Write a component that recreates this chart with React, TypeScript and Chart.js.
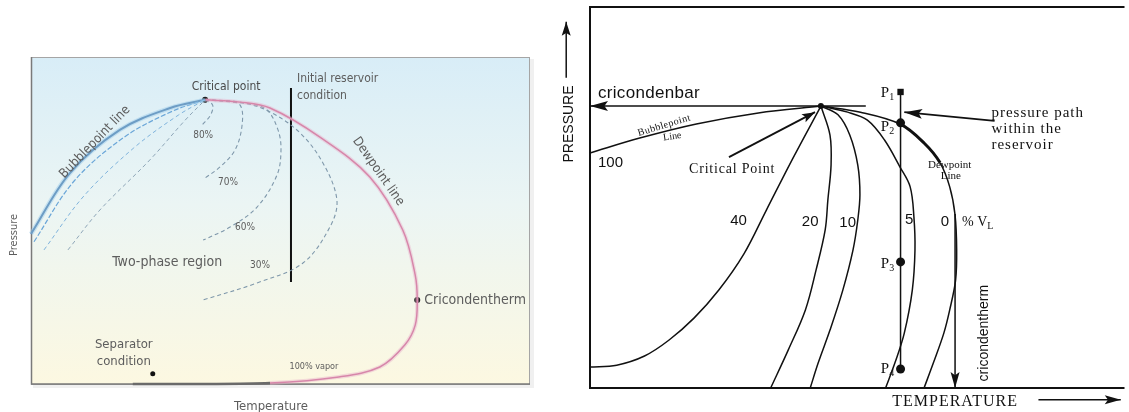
import React, { useEffect, useRef } from "react";
import { Chart, registerables } from "chart.js";
Chart.register(...registerables);

// ---------- LEFT DIAGRAM DATA (arbitrary temperature / pressure units, 0-100) ----------
const leftBubblepoint = [[0, 45.9], [7.8, 64.5], [17.8, 77.7], [27.9, 84.4], [34.9, 86.9]];
const leftBubbleDashA = [[0.6, 43.5], [8.6, 62.0], [18.6, 75.4], [28.3, 83.4], [34.9, 86.9]];
const leftBubbleDashB = [[2.6, 41.0], [10.6, 57.5], [20.6, 72.2], [29.6, 82.3], [34.9, 86.9]];
const leftBubbleDashC = [[7.4, 41.0], [13.8, 53.2], [23.8, 68.5], [30.9, 80.7], [34.9, 86.9]];
const leftDewpoint = [[34.9, 86.9], [41.9, 86.2], [47.9, 84.4], [57.9, 75.5], [67.9, 63.3], [74.5, 47.1], [77.0, 33.3], [77.4, 25.7], [77.0, 18.0], [74.9, 11.9], [69.9, 5.2], [61.3, 2.1], [47.9, 0.3], [33.9, 0], [20.4, 0]];
const leftQuality80 = [[34.9, 86.9], [36.4, 85.3], [36.0, 82.3], [34.3, 79.2]];
const leftQuality70 = [[34.9, 86.9], [39.0, 86.5], [41.9, 85.3], [42.3, 79.2], [40.9, 71.6], [37.9, 66.4], [34.9, 63.0]];
const leftQuality60 = [[34.9, 86.9], [43.9, 85.6], [47.3, 83.8], [49.5, 77.7], [50.1, 71.6], [49.3, 63.9], [45.3, 54.1], [39.9, 48.0], [34.5, 44.0]];
const leftQuality30 = [[34.9, 86.9], [41.9, 86.2], [47.9, 83.2], [53.9, 76.8], [58.5, 67.6], [61.3, 56.3], [59.9, 48.0], [54.5, 37.0], [45.3, 30.9], [34.5, 25.7]];
const leftReservoirPath = [[52.1, 90.5], [52.1, 31.2]];
const leftCriticalPoint = [[34.9, 86.9]];
const leftCricondentherm = [[77.4, 25.7]];
const leftSeparator = [[24.4, 3.1]];
const leftQualityLabels = ["80%", "70%", "60%", "30%"];

// ---------- RIGHT DIAGRAM DATA ----------
const rightBubblepoint = [[0, 61.7], [9.3, 65.6], [19.9, 69.3], [31.5, 72.2], [43.2, 74.0]];
const rightCricondenbar = [[51.6, 74.0], [0, 74.0]];
const rightVL40 = [[0, 5.5], [5.0, 6.0], [10.2, 8.4], [14.8, 12.6], [19.5, 18.4], [24.1, 25.7], [28.8, 35.2], [33.0, 46.7], [38.0, 60.4], [43.2, 74.0]];
const rightVL20 = [[43.2, 74.0], [44.9, 66.4], [45.1, 58.5], [44.5, 49.3], [44.0, 41.5], [42.3, 31.0], [40.3, 20.5], [37.1, 10.0], [33.8, 0]];
const rightVL10 = [[43.2, 74.0], [46.4, 71.7], [48.6, 66.4], [50.1, 58.5], [50.5, 50.7], [50.1, 44.1], [49.2, 36.2], [47.3, 25.7], [44.9, 15.2], [42.7, 6.6], [41.2, 0]];
const rightVL5 = [[43.2, 74.0], [48.2, 72.4], [51.9, 70.3], [55.1, 65.1], [58.0, 58.0], [59.9, 52.8], [60.6, 44.9], [60.8, 36.2], [60.3, 25.7], [58.8, 14.4], [57.1, 6.8], [55.3, 0]];
const rightVL0 = [[43.2, 74.0], [50.6, 72.4], [58.0, 69.3], [62.5, 64.3], [65.5, 59.1], [67.3, 52.8], [68.3, 45.4], [68.6, 36.2], [68.4, 28.3], [67.3, 20.5], [66.2, 14.4], [64.3, 6.8], [62.5, 0]];
const rightPressurePath = [[58.1, 77.7], [58.1, 5.0]];
const rightP1 = [[58.1, 77.7]];
const rightP2toP4 = [[58.1, 69.6], [58.1, 33.1], [58.1, 5.0]];
const rightCriticalPoint = [[43.2, 74.0]];
const rightCriticalArrow = [[26.0, 60.6], [42.1, 72.4]];
const rightPathArrow = [[75.7, 70.1], [58.8, 72.4]];
const rightCricondenthermArrow = [[68.3, 45.7], [68.3, 0]];
const rightPressureAxisArrow = [[-4.45, 81.4], [-4.45, 96.1]];
const rightTemperatureAxisArrow = [[83.9, -3.1], [99.3, -3.1]];
const rightVLLabels = ["40", "20", "10", "5", "0"];
const rightPointLabels = ["1", "2", "3", "4"];

// ---------- helpers ----------
const SANS = '"Liberation Sans", Arial, sans-serif';
const SERIF = '"Liberation Serif", "Times New Roman", serif';
const NARROW = '"Liberation Sans Narrow", "DejaVu Sans Condensed", "Liberation Sans", sans-serif';

const toXY = (a: number[][]) => a.map(([x, y]) => ({ x, y }));

function lineDs(data: number[][], color: string, width: number, dash: number[] = [], extra: any = {}) {
  return {
    data: toXY(data),
    showLine: true,
    borderColor: color,
    backgroundColor: color,
    borderWidth: width,
    borderDash: dash,
    pointRadius: 0,
    pointHoverRadius: 0,
    tension: 0.35,
    fill: false,
    clip: false,
    ...extra,
  };
}

function dotDs(data: number[][], color: string, r: number, style: string = "circle") {
  return {
    data: toXY(data),
    showLine: false,
    pointRadius: r,
    pointHoverRadius: r,
    pointStyle: style,
    pointBackgroundColor: color,
    pointBorderColor: color,
    borderWidth: 0,
    clip: false,
  };
}

type Lbl = { t: string; x: number; y: number; f: string; c?: string; a?: CanvasTextAlign; r?: number; ls?: number };

function drawText(ctx: CanvasRenderingContext2D, s: string, x: number, y: number, font: string, color: string, align: CanvasTextAlign = "center", rot = 0, ls = 0) {
  ctx.save();
  ctx.translate(x, y);
  if (rot) ctx.rotate((rot * Math.PI) / 180);
  ctx.font = font;
  (ctx as any).letterSpacing = ls + "px";
  ctx.fillStyle = color;
  ctx.textAlign = align;
  ctx.textBaseline = "middle";
  ctx.fillText(s, 0, 0);
  ctx.restore();
}

function px(chart: any, x: number, y: number) {
  return [chart.scales.x.getPixelForValue(x), chart.scales.y.getPixelForValue(y)];
}

function drawLabels(chart: any, labels: Lbl[], defColor: string) {
  const ctx = chart.ctx as CanvasRenderingContext2D;
  labels.forEach((l) => {
    const [x, y] = px(chart, l.x, l.y);
    drawText(ctx, l.t, x, y, l.f, l.c || defColor, l.a || "center", l.r || 0, l.ls || 0);
  });
}

const arrowPlugin = {
  id: "arrowHeads",
  afterDatasetsDraw(chart: any) {
    const ctx = chart.ctx as CanvasRenderingContext2D;
    chart.data.datasets.forEach((ds: any, i: number) => {
      if (!ds.arrowHead) return;
      const pts = chart.getDatasetMeta(i).data;
      const n = pts.length;
      if (n < 2) return;
      const a = pts[n - 2], b = pts[n - 1];
      const ang = Math.atan2(b.y - a.y, b.x - a.x);
      const { len, half } = ds.arrowHead;
      ctx.save();
      ctx.translate(b.x, b.y);
      ctx.rotate(ang);
      ctx.beginPath();
      ctx.moveTo(0, 0);
      ctx.lineTo(-len, -half);
      ctx.lineTo(-len * 0.8, 0);
      ctx.lineTo(-len, half);
      ctx.closePath();
      ctx.fillStyle = ds.borderColor;
      ctx.fill();
      ctx.restore();
    });
  },
};

const isBottom = (c: any) => c.p0.parsed.y < 0.5 && c.p1.parsed.y < 0.5;

// ---------- LEFT CHART ----------
function leftConfig(): any {
  const labelColor = "#5d5d5d";
  const f = (s: number) => `${s}px ${NARROW}`;
  const labels: Lbl[] = [
    { t: "Critical point", x: 39.1, y: 91.0, f: f(12), c: "#4a4a4a" },
    { t: "Initial reservoir", x: 53.3, y: 93.2, f: f(12), a: "left" },
    { t: "condition", x: 53.3, y: 88.0, f: f(12), a: "left" },
    { t: "Bubblepoint line", x: 12.8, y: 74.0, f: f(13), r: -46 },
    { t: "Dewpoint line", x: 69.6, y: 65.0, f: f(13), r: 55 },
    { t: leftQualityLabels[0], x: 34.5, y: 76.1, f: f(10) },
    { t: leftQualityLabels[1], x: 39.5, y: 61.8, f: f(10) },
    { t: leftQualityLabels[2], x: 42.9, y: 48.0, f: f(10) },
    { t: leftQualityLabels[3], x: 45.9, y: 36.4, f: f(10) },
    { t: "Two-phase region", x: 27.3, y: 37.3, f: f(14) },
    { t: "Separator", x: 18.6, y: 11.9, f: f(13) },
    { t: "condition", x: 18.6, y: 6.7, f: f(13) },
    { t: "100% vapor", x: 56.7, y: 5.2, f: f(9) },
    { t: "Cricondentherm", x: 78.8, y: 25.7, f: f(14), a: "left" },
    { t: "Pressure", x: -3.3, y: 45.6, f: f(11), r: -90 },
    { t: "Temperature", x: 48.1, y: -7.0, f: f(13) },
  ];
  const bgPlugin = {
    id: "leftBg",
    beforeDatasetsDraw(chart: any) {
      const ctx = chart.ctx as CanvasRenderingContext2D;
      const { left, top, right, bottom } = chart.chartArea;
      ctx.save();
      ctx.fillStyle = "#f0f0f0";
      ctx.fillRect(left + 2, top + 2, right - left + 2, bottom - top + 2);
      const g = ctx.createLinearGradient(0, top, 0, bottom);
      g.addColorStop(0, "#d8edf7");
      g.addColorStop(0.45, "#ebf5f4");
      g.addColorStop(1, "#fcf8e1");
      ctx.fillStyle = g;
      ctx.fillRect(left, top, right - left, bottom - top);
      ctx.strokeStyle = "#a5a5a5";
      ctx.lineWidth = 1;
      ctx.strokeRect(left + 0.5, top + 0.5, right - left - 1, bottom - top);
      ctx.strokeStyle = "#7a7a7a";
      ctx.lineWidth = 1.5;
      ctx.beginPath();
      ctx.moveTo(left + 0.5, top);
      ctx.lineTo(left + 0.5, bottom);
      ctx.lineTo(right, bottom);
      ctx.stroke();
      ctx.restore();
    },
    afterDatasetsDraw(chart: any) {
      drawLabels(chart, labels, labelColor);
    },
  };
  const qColor = "#7f98ab";
  return {
    type: "scatter",
    data: {
      datasets: [
        lineDs(leftBubblepoint, "rgba(160,205,235,0.5)", 4.5),
        lineDs(leftBubbleDashC, "#8ea6b8", 1, [4, 3]),
        lineDs(leftBubbleDashB, "#7fb3dc", 1, [4, 3]),
        lineDs(leftBubbleDashA, "#6aa6d8", 1.2, [5, 2]),
        lineDs(leftBubblepoint, "#3a6c9e", 2),
        lineDs(leftDewpoint, "rgba(232,180,205,0.45)", 4, [], {
          segment: { borderColor: (c: any) => (isBottom(c) ? "rgba(0,0,0,0)" : undefined) },
        }),
        lineDs(leftDewpoint, "#c8628e", 1.5, [], {
          segment: {
            borderColor: (c: any) => (isBottom(c) ? "#6a6a6a" : undefined),
            borderWidth: (c: any) => (isBottom(c) ? 2.5 : undefined),
          },
        }),
        lineDs(leftQuality80, qColor, 1.1, [4, 3]),
        lineDs(leftQuality70, qColor, 1.1, [4, 3]),
        lineDs(leftQuality60, qColor, 1.1, [4, 3]),
        lineDs(leftQuality30, qColor, 1.1, [4, 3]),
        lineDs(leftReservoirPath, "#111", 2, [], { tension: 0 }),
        dotDs(leftCriticalPoint, "#111", 3),
        dotDs(leftCricondentherm, "#111", 3),
        dotDs(leftSeparator, "#111", 2.5),
      ],
    },
    options: {
      responsive: false,
      animation: false,
      events: [],
      layout: { padding: { left: 31, top: 57, right: 15, bottom: 28 } },
      plugins: { legend: { display: false }, tooltip: { enabled: false } },
      scales: {
        x: { type: "linear", min: 0, max: 100, display: false },
        y: { type: "linear", min: 0, max: 100, display: false },
      },
    },
    plugins: [bgPlugin],
  };
}

// ---------- RIGHT CHART ----------
function rightConfig(): any {
  const black = "#111";
  const labels: Lbl[] = [
    { t: "PRESSURE", x: -3.9, y: 69.3, f: `14px ${SANS}`, r: -90 },
    { t: "cricondenbar", x: 1.5, y: 77.3, f: `17px ${SANS}`, a: "left", ls: 0.3 },
    { t: "100", x: 1.5, y: 59.1, f: `15px ${SANS}`, a: "left" },
    { t: "Bubblepoint", x: 13.9, y: 68.9, f: `10px ${SERIF}`, r: -17, ls: 0.5 },
    { t: "Line", x: 15.4, y: 66.0, f: `10px ${SERIF}`, r: -8 },
    { t: "Critical Point", x: 26.6, y: 57.4, f: `14px ${SERIF}`, ls: 0.8 },
    { t: rightVLLabels[0], x: 27.8, y: 43.8, f: `15px ${SANS}` },
    { t: rightVLLabels[1], x: 41.2, y: 43.6, f: `15px ${SANS}` },
    { t: rightVLLabels[2], x: 48.2, y: 43.3, f: `15px ${SANS}` },
    { t: rightVLLabels[3], x: 59.7, y: 44.1, f: `15px ${SANS}` },
    { t: rightVLLabels[4], x: 66.4, y: 43.6, f: `15px ${SANS}` },
    { t: "pressure path", x: 75.1, y: 72.2, f: `15px ${SERIF}`, a: "left", ls: 1 },
    { t: "within the", x: 75.1, y: 68.0, f: `15px ${SERIF}`, a: "left", ls: 1 },
    { t: "reservoir", x: 75.1, y: 63.8, f: `15px ${SERIF}`, a: "left", ls: 1 },
    { t: "Dewpoint", x: 67.3, y: 58.5, f: `11px ${SERIF}` },
    { t: "Line", x: 67.5, y: 55.6, f: `11px ${SERIF}` },
    { t: "cricondentherm", x: 73.8, y: 14.4, f: `14px ${SANS}`, r: -90 },
    { t: "TEMPERATURE", x: 68.3, y: -3.7, f: `16px ${SERIF}`, ls: 1 },
  ];
  const pLabelYs = [77.4, 68.5, 32.5, 5.0];
  const framePlugin = {
    id: "rightFrame",
    beforeDatasetsDraw(chart: any) {
      const ctx = chart.ctx as CanvasRenderingContext2D;
      const { left, top, right, bottom } = chart.chartArea;
      ctx.save();
      ctx.strokeStyle = black;
      ctx.lineWidth = 2;
      ctx.beginPath();
      ctx.moveTo(right, top);
      ctx.lineTo(left, top);
      ctx.lineTo(left, bottom);
      ctx.lineTo(right, bottom);
      ctx.stroke();
      ctx.restore();
    },
    afterDatasetsDraw(chart: any) {
      const ctx = chart.ctx as CanvasRenderingContext2D;
      drawLabels(chart, labels, black);
      rightPointLabels.forEach((s, i) => {
        const [x, y] = px(chart, 56.9, pLabelYs[i]);
        ctx.save();
        ctx.font = `15px ${SERIF}`;
        const wP = ctx.measureText("P").width;
        ctx.font = `10px ${SERIF}`;
        const wS = ctx.measureText(s).width;
        ctx.restore();
        const x0 = x - wP - wS;
        drawText(ctx, "P", x0, y, `15px ${SERIF}`, black, "left");
        drawText(ctx, s, x0 + wP, y + 4, `10px ${SERIF}`, black, "left");
      });
      const [vx, vy] = px(chart, 69.6, 43.6);
      ctx.save();
      ctx.font = `14px ${SERIF}`;
      const w = ctx.measureText("% V").width;
      ctx.restore();
      drawText(ctx, "% V", vx, vy, `14px ${SERIF}`, black, "left");
      drawText(ctx, "L", vx + w, vy + 4, `10px ${SERIF}`, black, "left");
    },
  };
  return {
    type: "scatter",
    data: {
      datasets: [
        lineDs(rightBubblepoint, black, 1.5),
        lineDs(rightCricondenbar, black, 1.5, [], { tension: 0, arrowHead: { len: 18, half: 5 } }),
        lineDs(rightVL40, black, 1.5),
        lineDs(rightVL20, black, 1.5),
        lineDs(rightVL10, black, 1.5),
        lineDs(rightVL5, black, 1.5),
        lineDs(rightVL0, black, 1.5, [], {
          segment: { borderWidth: (c: any) => (c.p0.parsed.x >= 57 && c.p0.parsed.x < 63 ? 3 : undefined) },
        }),
        lineDs(rightPressurePath, black, 1.5, [], { tension: 0 }),
        lineDs(rightCriticalArrow, black, 1.8, [], { tension: 0, arrowHead: { len: 13, half: 4.5 } }),
        lineDs(rightPathArrow, black, 1.8, [], { tension: 0, arrowHead: { len: 18, half: 5 } }),
        lineDs(rightCricondenthermArrow, black, 1.5, [], { tension: 0, arrowHead: { len: 16, half: 4.5 } }),
        lineDs(rightPressureAxisArrow, black, 1.5, [], { tension: 0, arrowHead: { len: 14, half: 4.5 } }),
        lineDs(rightTemperatureAxisArrow, black, 1.5, [], { tension: 0, arrowHead: { len: 16, half: 4.5 } }),
        dotDs(rightCriticalPoint, black, 3),
        dotDs(rightP1, black, 4.5, "rect"),
        dotDs(rightP2toP4, black, 4.5),
      ],
    },
    options: {
      responsive: false,
      animation: false,
      events: [],
      layout: { padding: { left: 45, top: 7, right: 0, bottom: 24 } },
      plugins: { legend: { display: false }, tooltip: { enabled: false } },
      scales: {
        x: { type: "linear", min: 0, max: 100, display: false },
        y: { type: "linear", min: 0, max: 100, display: false },
      },
    },
    plugins: [arrowPlugin, framePlugin],
  };
}

export default function App() {
  const leftRef = useRef<HTMLCanvasElement>(null);
  const rightRef = useRef<HTMLCanvasElement>(null);
  useEffect(() => {
    const c1 = new Chart(leftRef.current as HTMLCanvasElement, leftConfig());
    const c2 = new Chart(rightRef.current as HTMLCanvasElement, rightConfig());
    return () => {
      c1.destroy();
      c2.destroy();
    };
  }, []);
  return (
    <div style={{ position: "absolute", left: 0, top: 0, width: 1129, height: 412, background: "#fff", overflow: "hidden" }}>
      <canvas ref={leftRef} width={545} height={412} style={{ position: "absolute", left: 0, top: 0 }} />
      <canvas ref={rightRef} width={584} height={412} style={{ position: "absolute", left: 545, top: 0 }} />
    </div>
  );
}
